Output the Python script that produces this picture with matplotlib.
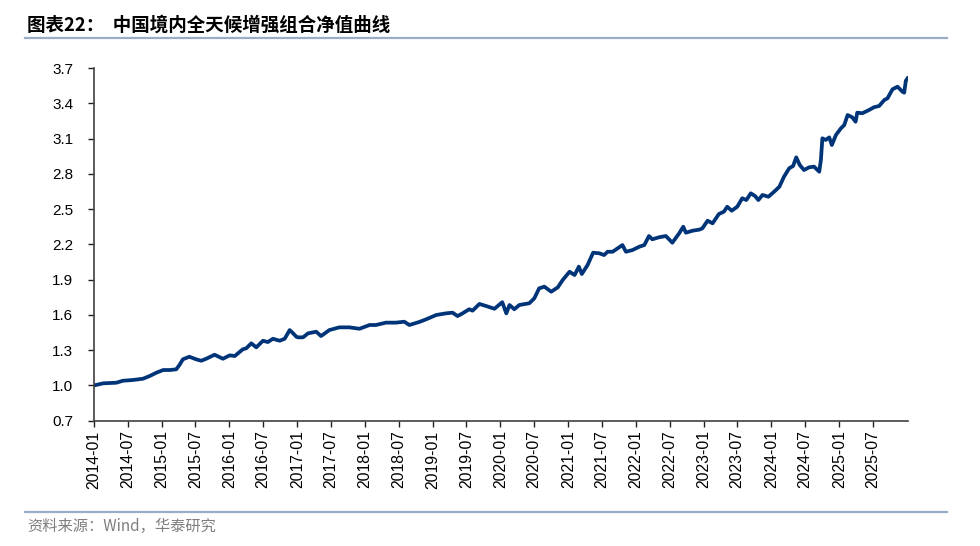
import matplotlib
matplotlib.use("Agg")
import matplotlib.pyplot as plt
from matplotlib.lines import Line2D
import pandas as pd

plt.rcParams['font.family'] = ['Liberation Sans', 'Noto Sans CJK SC', 'DejaVu Sans']

dates = [
    "2014-01-01", "2014-02-20", "2014-05-01", "2014-06-06", "2014-07-29", "2014-09-22",
    "2014-10-28", "2014-12-03", "2015-01-09", "2015-02-14", "2015-03-20", "2015-04-07",
    "2015-04-25", "2015-05-30", "2015-07-06", "2015-08-02", "2015-08-29", "2015-10-13",
    "2015-11-27", "2016-01-03", "2016-01-30", "2016-03-13", "2016-04-01", "2016-04-28",
    "2016-05-25", "2016-06-30", "2016-07-26", "2016-08-23", "2016-09-28", "2016-10-25",
    "2016-11-21", "2016-12-06", "2016-12-27", "2017-01-05", "2017-02-01", "2017-02-28",
    "2017-04-13", "2017-05-09", "2017-06-23", "2017-08-16", "2017-10-09", "2017-12-02",
    "2018-01-26", "2018-03-01", "2018-04-24", "2018-06-17", "2018-08-01", "2018-08-28",
    "2018-10-21", "2018-11-26", "2019-01-20", "2019-03-13", "2019-04-18", "2019-05-15",
    "2019-06-11", "2019-07-17", "2019-08-04", "2019-09-10", "2019-10-15", "2019-11-30",
    "2020-01-11", "2020-02-02", "2020-02-19", "2020-03-16", "2020-04-12", "2020-06-05",
    "2020-07-02", "2020-07-28", "2020-08-25", "2020-10-01", "2020-11-06", "2020-12-02",
    "2021-01-08", "2021-02-04", "2021-02-27", "2021-03-15", "2021-04-15", "2021-05-15",
    "2021-06-17", "2021-07-13", "2021-08-01", "2021-08-28", "2021-09-24", "2021-10-20",
    "2021-11-08", "2021-12-14", "2022-01-19", "2022-02-15", "2022-03-12", "2022-03-30",
    "2022-05-05", "2022-06-11", "2022-07-16", "2022-08-22", "2022-09-13", "2022-09-27",
    "2022-11-02", "2022-12-08", "2022-12-25", "2023-01-22", "2023-02-18", "2023-03-24",
    "2023-04-20", "2023-05-08", "2023-06-01", "2023-07-01", "2023-07-28", "2023-08-19",
    "2023-09-12", "2023-10-05", "2023-10-23", "2023-11-14", "2023-12-16", "2024-01-16",
    "2024-02-13", "2024-03-09", "2024-04-06", "2024-04-27", "2024-05-14", "2024-06-02",
    "2024-06-25", "2024-07-22", "2024-08-18", "2024-09-15", "2024-09-24", "2024-10-02",
    "2024-10-20", "2024-11-08", "2024-11-22", "2024-12-14", "2025-01-10", "2025-01-28",
    "2025-02-15", "2025-03-12", "2025-03-30", "2025-04-08", "2025-05-05", "2025-06-11",
    "2025-07-07", "2025-08-04", "2025-09-01", "2025-09-18", "2025-10-15", "2025-11-11",
    "2025-12-08", "2025-12-17", "2025-12-26", "2026-01-04",
]

nav = [
    1.000, 1.018, 1.023, 1.040, 1.046, 1.057,
    1.080, 1.108, 1.131, 1.131, 1.137, 1.174,
    1.222, 1.244, 1.222, 1.210, 1.227, 1.261,
    1.227, 1.256, 1.250, 1.307, 1.316, 1.358,
    1.324, 1.380, 1.369, 1.397, 1.380, 1.397,
    1.471, 1.449, 1.414, 1.409, 1.409, 1.443,
    1.457, 1.420, 1.471, 1.494, 1.494, 1.482,
    1.514, 1.514, 1.534, 1.534, 1.542, 1.514,
    1.540, 1.562, 1.599, 1.613, 1.619, 1.590,
    1.613, 1.648, 1.636, 1.693, 1.676, 1.652,
    1.708, 1.613, 1.684, 1.648, 1.684, 1.699,
    1.741, 1.826, 1.840, 1.797, 1.835, 1.897,
    1.967, 1.939, 2.010, 1.948, 2.024, 2.129,
    2.124, 2.109, 2.137, 2.137, 2.166, 2.194,
    2.137, 2.152, 2.180, 2.194, 2.271, 2.243,
    2.260, 2.271, 2.214, 2.294, 2.350, 2.299,
    2.316, 2.325, 2.336, 2.401, 2.379, 2.458,
    2.478, 2.520, 2.486, 2.520, 2.592, 2.577,
    2.634, 2.611, 2.577, 2.620, 2.605, 2.648,
    2.690, 2.775, 2.847, 2.866, 2.940, 2.875,
    2.832, 2.855, 2.861, 2.818, 2.917, 3.102,
    3.088, 3.110, 3.045, 3.130, 3.187, 3.215,
    3.300, 3.281, 3.243, 3.320, 3.315, 3.343,
    3.366, 3.377, 3.428, 3.442, 3.519, 3.541,
    3.498, 3.490, 3.592, 3.612,
]

y_ticks = [0.7, 1.0, 1.3, 1.6, 1.9, 2.2, 2.5, 2.8, 3.1, 3.4, 3.7]
x_tick_labels = pd.date_range("2014-01-01", "2025-07-01", freq="6MS").strftime("%Y-%m").tolist()

title_text = "图表22：  中国境内全天候增强组合净值曲线"
source_text = "资料来源：Wind，华泰研究"

W, H = 980, 546
fig = plt.figure(figsize=(W / 100, H / 100), dpi=100)
ax = fig.add_axes([94 / W, 1 - 420.7 / H, (907.7 - 94) / W, (420.7 - 68) / H])

x = pd.to_datetime(dates)
ax.plot(x, nav, color="#003478", linewidth=2.7, solid_joinstyle="round")

ax.set_ylim(0.7, 3.7)
ax.set_yticks(y_ticks)
ax.set_yticklabels([f"{v:.1f}" for v in y_ticks])
ax.set_xlim(pd.Timestamp("2014-01-01"), pd.Timestamp("2026-01-05"))
xt = pd.to_datetime([s + "-01" for s in x_tick_labels])
ax.set_xticks(xt)
ax.set_xticklabels(x_tick_labels, rotation=90)

for s in ["top", "right"]:
    ax.spines[s].set_visible(False)
for s in ["left", "bottom"]:
    ax.spines[s].set_color("#404040")
    ax.spines[s].set_linewidth(1.2)

ax.tick_params(axis="y", direction="out", length=4, width=1, color="#202020",
               labelsize=11, pad=11, labelcolor="black")
ax.tick_params(axis="x", direction="out", length=4, width=1, color="#202020",
               labelsize=11.3, pad=3, labelcolor="black")

# title and header line
fig.text(27 / W, 1 - 25 / H, title_text, fontsize=13.3, fontweight="bold",
         va="center", ha="left", color="black",
         family=["Noto Sans CJK SC", "Liberation Sans"])
fig.add_artist(Line2D([25 / W, 947 / W], [1 - 37.7 / H, 1 - 37.7 / H],
                      color="#98ADC6", linewidth=1.6, transform=fig.transFigure))

# footer line and source
fig.add_artist(Line2D([25 / W, 947 / W], [1 - 511.7 / H, 1 - 511.7 / H],
                      color="#98ADC6", linewidth=1.6, transform=fig.transFigure))
fig.text(27 / W, 1 - 526 / H, source_text, fontsize=11, va="center", ha="left",
         color="#7F7F7F", family=["Noto Sans CJK SC", "Liberation Sans"])

fig.savefig("out.png", dpi=100)
